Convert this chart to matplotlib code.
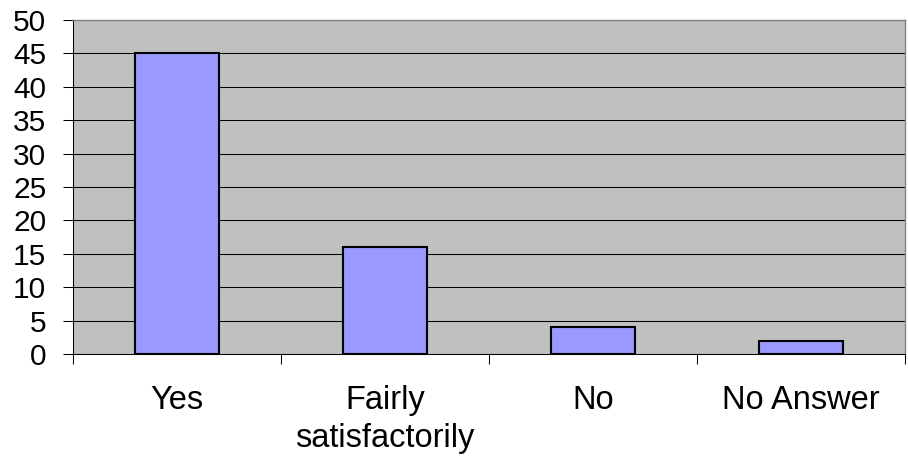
import matplotlib
matplotlib.use("Agg")
import matplotlib.pyplot as plt
import numpy as np

categories = ["Yes", "Fairly\nsatisfactorily", "No", "No Answer"]
values = [45, 16, 4, 2]
y_ticks = [0, 5, 10, 15, 20, 25, 30, 35, 40, 45, 50]

plt.rcParams["font.family"] = ["Liberation Sans", "DejaVu Sans"]

fig = plt.figure(figsize=(9.08, 4.61), dpi=100)
ax = fig.add_axes([73 / 908, 1 - 354 / 461, (905 - 73) / 908, (354 - 20) / 461])

ax.set_facecolor("#C0C0C0")
x = np.arange(len(categories))
ax.bar(x, values, width=0.4, color="#9999FF", edgecolor="black", linewidth=1.5, zorder=3)

ax.set_xlim(-0.5, len(categories) - 0.5)
ax.set_ylim(0, 50)
ax.set_yticks(y_ticks)
ax.yaxis.grid(True, color="black", linewidth=0.75, zorder=1)
ax.set_axisbelow(True)

ax.set_xticks(x)
ax.set_xticklabels(categories, fontsize=23.5, va="top", ha="center", linespacing=1.3)
ax.tick_params(axis="x", which="major", length=0, pad=22)
ax.set_xticks(np.arange(len(categories) + 1) - 0.5, minor=True)
ax.tick_params(axis="x", which="minor", length=7.2, width=0.75, direction="out")
ax.tick_params(axis="y", labelsize=21.5, length=7.2, width=0.75, direction="out", pad=12)

for side in ("top", "right"):
    ax.spines[side].set_color("#808080")
    ax.spines[side].set_linewidth(1.0)
for side in ("left", "bottom"):
    ax.spines[side].set_color("black")
    ax.spines[side].set_linewidth(0.75)

fig.savefig("out.png", dpi=100)
